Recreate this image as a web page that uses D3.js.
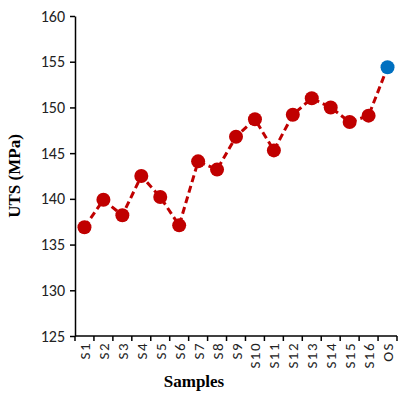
<!DOCTYPE html>
<html>
<head>
<meta charset="utf-8">
<script src="https://cdn.jsdelivr.net/npm/d3@7"></script>
<style>
  body { margin: 0; background: #fff; }
</style>
</head>
<body>
<script>
var samples = ['S1','S2','S3','S4','S5','S6','S7','S8','S9','S10','S11','S12','S13','S14','S15','S16','OS'];
var uts = [136.9, 139.9, 138.2, 142.5, 140.2, 137.1, 144.1, 143.2, 146.8, 148.7, 145.3, 149.2, 151.0, 150.0, 148.4, 149.1, 154.4];
var yTicks = [125, 130, 135, 140, 145, 150, 155, 160];

var w = 407, h = 399;
var plotLeft = 75, plotRight = 397, plotTop = 16, plotBottom = 336;

var svg = d3.select('body').append('svg').attr('width', w).attr('height', h);

var x = d3.scaleBand().domain(samples).range([plotLeft, plotRight]);
var y = d3.scaleLinear().domain([125, 160]).range([plotBottom, plotTop]);

// y axis
var yAxis = svg.append('g')
  .attr('transform', 'translate(' + plotLeft + ',0)')
  .call(d3.axisLeft(y).tickValues(yTicks).tickSize(5).tickPadding(5).tickSizeOuter(0));
yAxis.select('.domain').attr('stroke', '#000').attr('stroke-width', 1.5);
yAxis.selectAll('.tick line').attr('stroke-width', 1.5);
yAxis.selectAll('text').attr('font-family', 'Carlito, Calibri, "Open Sans", sans-serif').attr('font-size', 16).attr('fill', '#222');

// x axis, ticks at band edges like Excel
var xg = svg.append('g').attr('transform', 'translate(0,' + plotBottom + ')');
xg.append('line').attr('x1', plotLeft).attr('x2', plotRight).attr('stroke', '#000').attr('stroke-width', 1.5);
var edges = samples.map(function(d) { return x(d); }).concat([plotRight]);
xg.selectAll('.xt').data(edges).enter().append('line')
  .attr('x1', function(d) { return d; }).attr('x2', function(d) { return d; })
  .attr('y1', 0).attr('y2', 5).attr('stroke', '#000').attr('stroke-width', 1.5);
xg.selectAll('.xl').data(samples).enter().append('text')
  .attr('transform', function(d) { return 'translate(' + (x(d) + x.bandwidth() / 2 + 5.5) + ',6) rotate(-90)'; })
  .attr('text-anchor', 'end')
  .attr('font-family', 'Carlito, Calibri, "Open Sans", sans-serif')
  .attr('font-size', 15)
  .attr('letter-spacing', 1.5)
  .attr('fill', '#222')
  .text(function(d) { return d; });

// line
var cx = function(d, i) { return x(samples[i]) + x.bandwidth() / 2; };
var line = d3.line().x(function(d, i) { return cx(d, i); }).y(function(d) { return y(d); });
svg.append('path').datum(uts)
  .attr('d', line)
  .attr('fill', 'none')
  .attr('stroke', '#C00000')
  .attr('stroke-width', 3)
  .attr('stroke-dasharray', '7,4');

svg.selectAll('circle').data(uts).enter().append('circle')
  .attr('cx', cx)
  .attr('cy', function(d) { return y(d); })
  .attr('r', 7)
  .attr('fill', function(d, i) { return samples[i] === 'OS' ? '#0070C0' : '#C00000'; });

// titles
svg.append('text')
  .attr('transform', 'translate(20,' + ((plotTop + plotBottom) / 2) + ') rotate(-90)')
  .attr('text-anchor', 'middle')
  .attr('font-family', '"Liberation Serif", "Times New Roman", serif')
  .attr('font-weight', 'bold')
  .attr('font-size', 17)
  .text('UTS (MPa)');

svg.append('text')
  .attr('x', 194).attr('y', 387)
  .attr('text-anchor', 'middle')
  .attr('font-family', '"Liberation Serif", "Times New Roman", serif')
  .attr('font-weight', 'bold')
  .attr('font-size', 17)
  .text('Samples');
</script>
</body>
</html>
